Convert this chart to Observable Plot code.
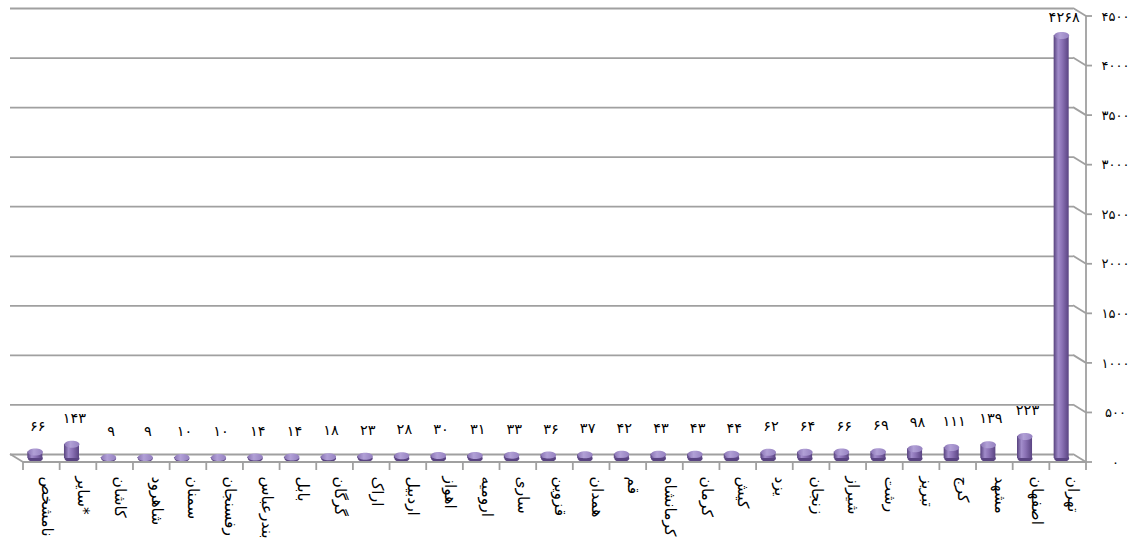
<!DOCTYPE html>
<html><head><meta charset="utf-8">
<script src="https://cdn.jsdelivr.net/npm/d3@7"></script>
<script src="https://cdn.jsdelivr.net/npm/@observablehq/plot@0.6"></script>
<style>html,body{margin:0;padding:0;background:#fff;overflow:hidden} svg{display:block;max-width:none!important}</style>
</head><body><div id="chart"></div>
<script>
const categories = ["نامشخص","سایر*","کاشان","شاهرود","سمنان","رفسنجان","بندرعباس","بابل","گرگان","اراک","اردبیل","اهواز","ارومیه","ساری","قزوین","همدان","قم","کرمانشاه","کرمان","کیش","یزد","زنجان","شیراز","رشت","تبریز","کرج","مشهد","اصفهان","تهران"];
const values = [66,143,9,9,10,10,14,14,18,23,28,30,31,33,36,37,42,43,43,44,62,64,66,69,98,111,139,223,4268];
const yTicks = [0,500,1000,1500,2000,2500,3000,3500,4000,4500];

const data = categories.map((c, i) => ({city: c, value: values[i]}));
const fa = n => String(n).replace(/\d/g, d => "۰۱۲۳۴۵۶۷۸۹"[d]);
const yMax = yTicks[yTicks.length - 1];

const W = 1145, H = 544, mL = 10, mR = 72, mT = 8, mB = 90;
const depthX = 13, depthY = 8;
const gridColor = "#a0a0a0";

function ellipse(rx, ry) {
  const k = 0.5523;
  return {draw(ctx) {
    ctx.moveTo(rx, 0);
    ctx.bezierCurveTo(rx, ry * k, rx * k, ry, 0, ry);
    ctx.bezierCurveTo(-rx * k, ry, -rx, ry * k, -rx, 0);
    ctx.bezierCurveTo(-rx, -ry * k, -rx * k, -ry, 0, -ry);
    ctx.bezierCurveTo(rx * k, -ry, rx, -ry * k, rx, 0);
    ctx.closePath();
  }};
}
const cap = ellipse(7.5, 3.5);

const plot = Plot.plot({
  width: W, height: H,
  marginLeft: mL, marginRight: mR, marginTop: mT, marginBottom: mB,
  style: {fontFamily: "DejaVu Sans", background: "#fff", color: "#000", maxWidth: "none"},
  x: {type: "band", domain: categories, paddingInner: 0.59, paddingOuter: 0.295, round: false, axis: null},
  y: {domain: [0, yMax], axis: null},
  marks: [
    Plot.ruleY(yTicks, {stroke: gridColor, strokeWidth: 1.8}),
    Plot.dot(data, {x: "city", y: () => 0, symbol: cap, fill: "#5a4482", dx: 6.5, dy: 4}),
    Plot.barY(data, {x: "city", y: "value", fill: "url(#cyl)", dx: 6.5, dy: 4}),
    Plot.dot(data, {x: "city", y: "value", symbol: cap, fill: "url(#capg)", dx: 6.5, dy: 4}),
    Plot.text(data, {x: "city", y: d => Math.min(d.value, yMax * 0.93), text: d => fa(d.value), dx: 9, dy: -22, fontSize: 14.5, fill: "#000"}),
    Plot.text(categories, {x: d => d, frameAnchor: "bottom", rotate: 90, textAnchor: "start", dx: 13, dy: 22, fontSize: 15.5, fill: "#000"}),
    Plot.text(yTicks, {y: d => d, text: d => fa(d), frameAnchor: "right", textAnchor: "middle", dx: 42, dy: 8, fontSize: 13, fill: "#000"})
  ]
});

document.getElementById("chart").appendChild(plot);

const svg = d3.select(plot);
const ys = plot.scale("y");
const yf = v => ys.apply(v);
const xs = plot.scale("x");
const step = xs.step ?? (W - mR - mL) / categories.length;

const defs = svg.insert("defs", ":first-child");
const g1 = defs.append("linearGradient").attr("id", "cyl").attr("x1", 0).attr("x2", 1).attr("y1", 0).attr("y2", 0);
[[0, "#56417d"], [0.3, "#a18cca"], [0.55, "#8c73b6"], [1, "#5a4482"]].forEach(([o, c]) => g1.append("stop").attr("offset", o).attr("stop-color", c));
const g2 = defs.append("linearGradient").attr("id", "capg").attr("x1", 0).attr("x2", 1).attr("y1", 0).attr("y2", 0);
[[0, "#8b75b5"], [0.4, "#b1a0d6"], [1, "#9581c0"]].forEach(([o, c]) => g2.append("stop").attr("offset", o).attr("stop-color", c));

const x0 = mL, x1 = W - mR;
const g = svg.append("g").attr("stroke", gridColor).attr("stroke-width", 1.8).attr("fill", "none");
yTicks.forEach(t => {
  g.append("line").attr("x1", x1).attr("y1", yf(t)).attr("x2", x1 + depthX).attr("y2", yf(t) + depthY);
  g.append("line").attr("x1", x1 + depthX).attr("y1", yf(t) + depthY).attr("x2", x1 + depthX + 6).attr("y2", yf(t) + depthY);
});
g.append("line").attr("x1", x1 + depthX).attr("x2", x1 + depthX)
  .attr("y1", yf(yMax) + depthY).attr("y2", yf(0) + depthY);
g.append("line").attr("x1", x0 + depthX).attr("x2", x1 + depthX)
  .attr("y1", yf(0) + depthY).attr("y2", yf(0) + depthY);
g.append("line").attr("x1", x0).attr("y1", yf(0)).attr("x2", x0 + depthX).attr("y2", yf(0) + depthY);
for (let i = 0; i <= categories.length; i++) {
  const x = x0 + depthX + i * step;
  g.append("line").attr("x1", x).attr("x2", x).attr("y1", yf(0) + depthY).attr("y2", yf(0) + depthY + 8);
}
</script>
</body></html>
